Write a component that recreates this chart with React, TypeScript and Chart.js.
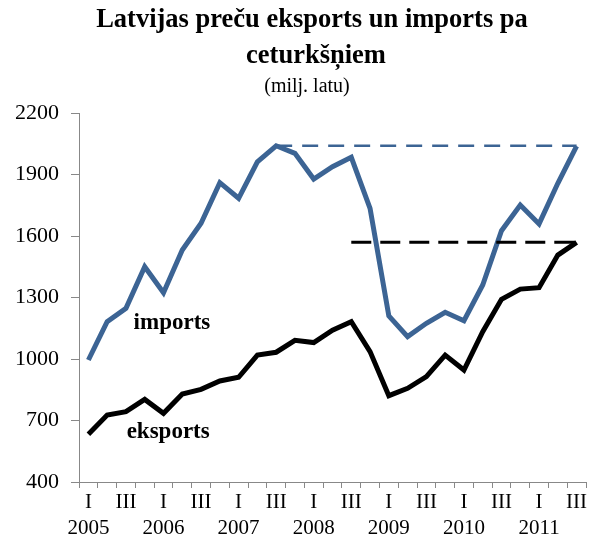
import React, { useEffect, useRef } from "react";
import { Chart, registerables } from "chart.js";

Chart.register(...registerables);

const years = ["2005", "2006", "2007", "2008", "2009", "2010", "2011"];
const quarterLabels = ["I", "", "III", ""];
const imports = [995, 1182, 1247, 1450, 1323, 1532, 1662, 1860, 1784, 1962, 2040, 2003, 1878, 1938, 1984, 1735, 1210, 1109, 1174, 1228, 1187, 1361, 1626, 1751, 1659, 1857, 2039];
const exportsData = [633, 727, 743, 803, 735, 829, 852, 893, 911, 1019, 1033, 1091, 1080, 1141, 1182, 1036, 821, 857, 914, 1019, 946, 1133, 1291, 1341, 1348, 1507, 1569];
const importRefLevel = 2040;
const importRefStart = 10;
const exportRefLevel = 1569;
const exportRefStart = 14;

const labels: (string | string[])[] = imports.map((_, i) => {
  const q = i % 4;
  if (q === 0) return [quarterLabels[q], years[Math.floor(i / 4)]];
  return quarterLabels[q];
});

const refLine = (level: number, start: number) => imports.map((_, i) => (i >= start ? level : null));

const SERIF = "'Liberation Serif', 'DejaVu Serif', serif";
const BLUE = "#3C6494";

const textPlugin = {
  id: "texts",
  afterDraw(chart: any) {
    const ctx = chart.ctx;
    const xs = chart.scales.x;
    const ys = chart.scales.y;
    ctx.save();
    ctx.fillStyle = "#000";
    ctx.textAlign = "center";
    ctx.textBaseline = "middle";
    ctx.font = `bold 26.5px ${SERIF}`;
    ctx.fillText("Latvijas preču eksports un imports pa", 312, 20);
    ctx.fillText("ceturkšņiem", 316, 56);
    ctx.font = `20px ${SERIF}`;
    ctx.fillText("(milj. latu)", 307, 87);
    ctx.font = `bold 23px ${SERIF}`;
    ctx.fillText("imports", xs.getPixelForValue(4.45), ys.getPixelForValue(1176));
    ctx.fillText("eksports", xs.getPixelForValue(4.25), ys.getPixelForValue(644));
    ctx.restore();
  },
};

export default function App() {
  const ref = useRef<HTMLCanvasElement>(null);
  useEffect(() => {
    document.body.style.margin = "0";
    const chart = new Chart(ref.current!, {
      type: "line",
      data: {
        labels,
        datasets: [
          { data: refLine(importRefLevel, importRefStart), borderColor: BLUE, borderWidth: 2.5, borderDash: [16, 10], pointRadius: 0, spanGaps: false },
          { data: refLine(exportRefLevel, exportRefStart), borderColor: "#000", borderWidth: 3, borderDash: [20, 9], pointRadius: 0, spanGaps: false },
          { data: imports, borderColor: BLUE, borderWidth: 5, pointRadius: 0, tension: 0 },
          { data: exportsData, borderColor: "#000", borderWidth: 5, pointRadius: 0, tension: 0 },
        ],
      },
      options: {
        animation: false,
        responsive: false,
        layout: { padding: { top: 113, right: 3, left: 0, bottom: 0 } },
        plugins: { legend: { display: false }, tooltip: { enabled: false }, title: { display: false } },
        scales: {
          x: {
            offset: true,
            grid: { offset: true, drawOnChartArea: false, drawTicks: true, tickLength: 6, color: "#888" },
            border: { color: "#888", width: 1 },
            ticks: { autoSkip: false, maxRotation: 0, color: "#000", padding: 1, font: { family: SERIF, size: 21, lineHeight: 1.25 } },
            afterFit: (s: any) => { s.height = 55; },
          },
          y: {
            min: 400,
            max: 2200,
            ticks: { stepSize: 300, color: "#000", padding: 12, font: { family: SERIF, size: 22 }, callback: (v: any) => String(v) },
            grid: { drawOnChartArea: false, drawTicks: true, tickLength: 8, color: "#888" },
            border: { color: "#888", width: 1 },
            afterFit: (s: any) => { s.width = 79; },
          },
        },
      },
      plugins: [textPlugin],
    });
    return () => chart.destroy();
  }, []);
  return (
    <div style={{ width: 589, height: 537 }}>
      <canvas ref={ref} width={589} height={537} style={{ width: 589, height: 537, display: "block" }} />
    </div>
  );
}
